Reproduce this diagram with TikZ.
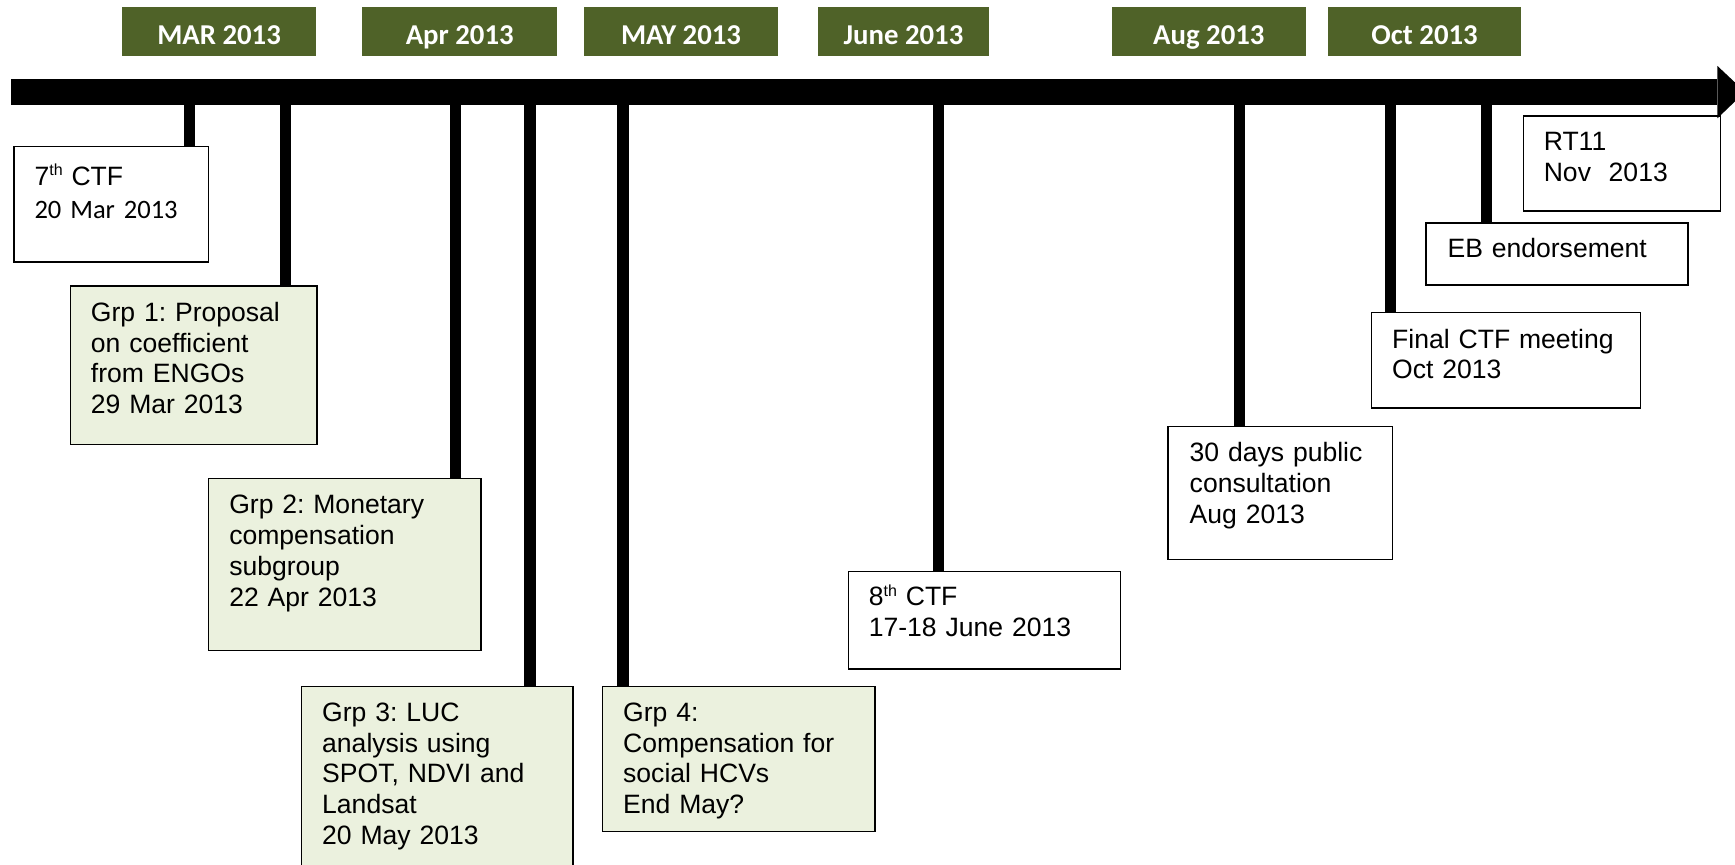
\documentclass[tikz,border=0pt]{standalone}
\usepackage{fontspec}
\setmainfont{Liberation Sans}
\newfontfamily\calibri{Carlito}
\definecolor{hdrgreen}{HTML}{4F6228}
\definecolor{palegreen}{HTML}{EBF1DE}
\newcommand\supth{\raisebox{8.5pt}{\fontsize{14.5}{14.5}\selectfont th}}
\frenchspacing
\begin{document}
\begin{tikzpicture}[x=1pt,y=-1pt,
  hdr/.style={fill=hdrgreen,text=white,font=\calibri\bfseries\fontsize{26}{26}\selectfont,
    minimum height=45pt,inner sep=0pt,text height=23pt,text depth=0pt},
  evbox/.style={draw=black,line width=1.3pt,anchor=north west,inner sep=0pt,fill=white},
  grpbox/.style={evbox,fill=palegreen},
  txt/.style={anchor=base west,inner sep=0pt,text width=300pt,align=left,
    font=\frenchspacing\fontsize{24}{27.8}\selectfont},
  tick/.style={line width=10pt},
]
\useasboundingbox (0,0) rectangle (1568,781.7);
\clip (0,0) rectangle (1568,781.7);

% month headers
\node[hdr,minimum width=176pt] (hMar) at (198,28.5) {MAR 2013};
\node[hdr,minimum width=176pt] (hApr) at (415.5,28.5) {Apr 2013};
\node[hdr,minimum width=175pt] (hMay) at (615.5,28.5) {MAY 2013};
\node[hdr,minimum width=155pt] (hJun) at (816.5,28.5) {June 2013};
\node[hdr,minimum width=175pt] (hAug) at (1092.5,28.5) {Aug 2013};
\node[hdr,minimum width=175pt] (hOct) at (1287.5,28.5) {Oct 2013};

% tick coordinates on the bar
\coordinate (k1) at (171,83);
\coordinate (k2) at (258,83);
\coordinate (k3) at (412,83);
\coordinate (k4) at (479,83);
\coordinate (k5) at (563,83);
\coordinate (k6) at (848,83);
\coordinate (k7) at (1120,83);
\coordinate (k8) at (1257,83);
\coordinate (k9) at (1343,83);

% boxes
\node[evbox,minimum width=176pt,minimum height=104pt] (ctf7) at (12,132) {};
\node[grpbox,minimum width=223pt,minimum height=143pt] (grp1) at (63,258) {};
\node[grpbox,minimum width=246pt,minimum height=155pt] (grp2) at (188,432) {};
\node[grpbox,minimum width=245pt,minimum height=175pt] (grp3) at (272,620) {};
\node[grpbox,minimum width=246pt,minimum height=131pt] (grp4) at (544,620) {};
\node[evbox,minimum width=246pt,minimum height=88pt] (ctf8) at (766,516) {};
\node[evbox,minimum width=203pt,minimum height=120pt] (pub) at (1055,385) {};
\node[evbox,minimum width=243pt,minimum height=86pt] (fin) at (1239,282) {};
\node[evbox,minimum width=237pt,minimum height=56pt] (eb) at (1288,201) {};
\node[evbox,minimum width=178pt,minimum height=86pt] (rt11) at (1376,104) {};

% ticks
\draw[tick] (k1) -- (k1 |- ctf7.north);
\draw[tick] (k2) -- (k2 |- grp1.north);
\draw[tick] (k3) -- (k3 |- grp2.north);
\draw[tick] (k4) -- (k4 |- grp3.north);
\draw[tick] (k5) -- (k5 |- grp4.north);
\draw[tick] (k6) -- (k6 |- ctf8.north);
\draw[tick] (k7) -- (k7 |- pub.north);
\draw[tick] (k8) -- (k8 |- fin.north);
\draw[tick] (k9) -- (k9 |- eb.north);

% main time bar
\coordinate (barL) at (10,83);
\coordinate (barR) at (1552,83);
\coordinate (barTip) at (1577,83);
\draw[line width=23.5pt] (barL) -- (barR);
\fill ([yshift=-24pt]barR) -- (barTip) -- ([yshift=23.5pt]barR) -- cycle;

% texts
\node[txt] (ctf7t) at (31,167.5) {7\supth{} CTF\\[2pt]{\calibri 20 Mar 2013}};
\node[txt] (grp1t) at (82,290.5) {Grp 1: Proposal\\on coefficient\\from ENGOs\\29 Mar 2013};
\node[txt] (grp2t) at (207,464.5) {Grp 2: Monetary\\compensation\\subgroup\\22 Apr 2013};
\node[txt] (grp3t) at (291,652) {Grp 3: LUC\\analysis using\\SPOT, NDVI and\\Landsat\\20 May 2013};
\node[txt] (grp4t) at (563,652) {Grp 4:\\Compensation for\\social HCVs\\End May?};
\node[txt] (ctf8t) at (785,547.5) {8\supth{} CTF\\17-18 June 2013};
\node[txt] (pubt) at (1075,417.5) {30 days public\\consultation\\Aug 2013};
\node[txt] (fint) at (1258,314.5) {Final CTF meeting\\Oct 2013};
\node[txt] (ebt) at (1308,232.5) {EB endorsement};
\node[txt] (rt11t) at (1395,136) {RT11\\Nov\ \ 2013};
\end{tikzpicture}
\end{document}
